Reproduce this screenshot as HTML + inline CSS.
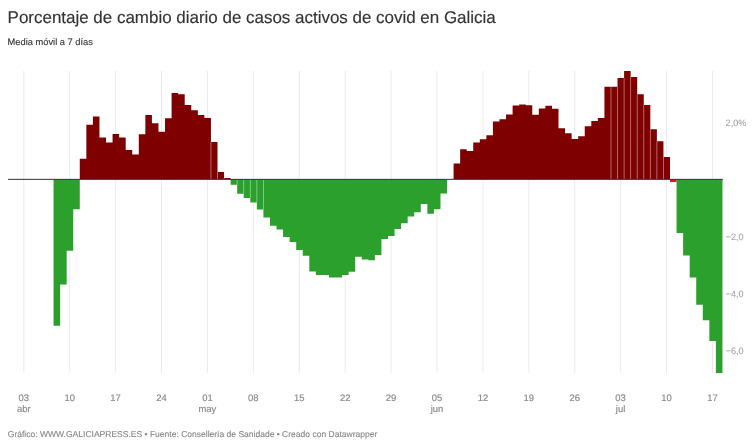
<!DOCTYPE html>
<html lang="es"><head><meta charset="utf-8"><title>Porcentaje de cambio diario de casos activos de covid en Galicia</title>
<style>
html,body{margin:0;padding:0;background:#fff;}
body{width:756px;height:447px;overflow:hidden;position:relative;font-family:"Liberation Sans",Arial,sans-serif;}
svg{position:absolute;left:0;top:0;display:block;}
svg text{font-family:"Liberation Sans",Arial,sans-serif;text-rendering:geometricPrecision;}
.title{font-size:16.97px;fill:#333;stroke:#333;stroke-width:0.15px;}
.sub{font-size:9.3px;fill:#333;stroke:#333;stroke-width:0.12px;}
.xl text{font-size:9.45px;fill:#888;stroke:#888;stroke-width:0.15px;}
.yl text{font-size:9.15px;fill:#a8a8a8;stroke:#a8a8a8;stroke-width:0.12px;}
.foot{font-size:8.52px;fill:#888;stroke:#888;stroke-width:0.12px;}
</style></head><body>
<svg width="756" height="447" viewBox="0 0 756 447">
<text class="title" x="7.6" y="22.8">Porcentaje de cambio diario de casos activos de covid en Galicia</text>
<text class="sub" x="7.6" y="44.8">Media móvil a 7 días</text>
<g><rect x="23.30" y="71" width="1" height="301.8" fill="#ebebeb"/><rect x="69.21" y="71" width="1" height="301.8" fill="#ebebeb"/><rect x="115.12" y="71" width="1" height="301.8" fill="#ebebeb"/><rect x="161.03" y="71" width="1" height="301.8" fill="#ebebeb"/><rect x="206.94" y="71" width="1" height="301.8" fill="#ebebeb"/><rect x="252.85" y="71" width="1" height="301.8" fill="#ebebeb"/><rect x="298.76" y="71" width="1" height="301.8" fill="#ebebeb"/><rect x="344.67" y="71" width="1" height="301.8" fill="#ebebeb"/><rect x="390.58" y="71" width="1" height="301.8" fill="#ebebeb"/><rect x="436.49" y="71" width="1" height="301.8" fill="#ebebeb"/><rect x="482.40" y="71" width="1" height="301.8" fill="#ebebeb"/><rect x="528.31" y="71" width="1" height="301.8" fill="#ebebeb"/><rect x="574.22" y="71" width="1" height="301.8" fill="#ebebeb"/><rect x="620.13" y="71" width="1" height="301.8" fill="#ebebeb"/><rect x="666.04" y="71" width="1" height="301.8" fill="#ebebeb"/><rect x="711.95" y="71" width="1" height="301.8" fill="#ebebeb"/></g>
<g><path d="M53.55 179.20V325.70H60.11V284.60H66.67V250.70H73.22V209.30H79.78V179.20Z" fill="#2ca02c"/><path d="M79.78 179.20V158.80H86.34V124.70H92.90V116.60H99.46V137.60H106.01V142.40H112.57V134.10H119.13V137.60H125.69V149.90H132.25V154.50H138.80V134.30H145.36V115.10H151.92V123.20H158.48V131.80H165.04V118.20H171.59V93.10H178.15V94.30H184.71V105.00H191.27V110.30H197.83V114.90H204.38V118.00H210.94V142.00H217.50V172.00H224.06V178.00H230.62V179.20Z" fill="#7f0000"/><path d="M230.62 179.20V184.70H237.17V193.80H243.73V198.10H250.29V202.50H256.85V209.60H263.41V217.60H269.96V225.70H276.52V229.50H283.08V237.10H289.64V241.90H296.20V250.10H302.75V255.70H309.31V271.60H315.87V274.90H322.43V274.90H328.99V277.60H335.54V277.60H342.10V274.90H348.66V271.70H355.22V256.70H361.78V259.50H368.33V260.20H374.89V254.90H381.45V239.10H388.01V235.90H394.57V228.90H401.12V223.30H407.68V216.50H414.24V212.30H420.80V203.90H427.36V213.80H433.91V209.35H440.47V193.60H447.03V179.20Z" fill="#2ca02c"/><path d="M453.59 179.20V163.40H460.15V149.30H466.70V151.00H473.26V142.60H479.82V139.20H486.38V135.20H492.94V121.50H499.49V119.20H506.05V114.40H512.61V105.60H519.17V104.60H525.73V105.30H532.28V114.70H538.84V108.45H545.40V105.80H551.96V108.80H558.52V128.30H565.07V133.20H571.63V139.00H578.19V136.20H584.75V126.20H591.31V120.90H597.86V118.00H604.42V86.80H610.98V86.80H617.54V78.10H624.10V71.00H630.65V77.00H637.21V94.30H643.77V105.05H650.33V129.20H656.89V141.20H663.44V156.90H670.00V179.20Z" fill="#7f0000"/><path d="M670.00 179.20V182.05H676.56V179.20Z" fill="#e8151b"/><path d="M676.56 179.20V233.10H683.12V255.60H689.68V277.60H696.23V304.80H702.79V320.30H709.35V341.10H715.91V372.90H722.47V179.20Z" fill="#2ca02c"/></g>
<g><rect x="210.54" y="142.00" width="0.8" height="37.20" fill="#fff" fill-opacity="0.5"/><rect x="217.10" y="172.00" width="0.8" height="7.20" fill="#fff" fill-opacity="0.5"/><rect x="223.66" y="178.00" width="0.8" height="1.20" fill="#fff" fill-opacity="0.5"/><rect x="236.77" y="179.20" width="0.8" height="5.50" fill="#fff" fill-opacity="0.5"/><rect x="243.33" y="179.20" width="0.8" height="14.60" fill="#fff" fill-opacity="0.5"/><rect x="249.89" y="179.20" width="0.8" height="18.90" fill="#fff" fill-opacity="0.5"/><rect x="256.45" y="179.20" width="0.8" height="23.30" fill="#fff" fill-opacity="0.5"/><rect x="263.01" y="179.20" width="0.8" height="30.40" fill="#fff" fill-opacity="0.5"/><rect x="610.58" y="86.80" width="0.8" height="92.40" fill="#fff" fill-opacity="0.5"/><rect x="617.14" y="86.80" width="0.8" height="92.40" fill="#fff" fill-opacity="0.5"/><rect x="623.70" y="78.10" width="0.8" height="101.10" fill="#fff" fill-opacity="0.5"/><rect x="630.25" y="77.00" width="0.8" height="102.20" fill="#fff" fill-opacity="0.5"/><rect x="636.81" y="94.30" width="0.8" height="84.90" fill="#fff" fill-opacity="0.5"/><rect x="643.37" y="105.05" width="0.8" height="74.15" fill="#fff" fill-opacity="0.5"/><rect x="649.93" y="129.20" width="0.8" height="50.00" fill="#fff" fill-opacity="0.5"/><rect x="656.49" y="141.20" width="0.8" height="38.00" fill="#fff" fill-opacity="0.5"/><rect x="663.04" y="156.90" width="0.8" height="22.30" fill="#fff" fill-opacity="0.5"/></g>
<rect x="8" y="178.85" width="714.9" height="1" fill="#333"/>
<g class="xl"><text x="23.8" y="401" text-anchor="middle">03</text><text x="23.8" y="412.4" text-anchor="middle">abr</text><text x="69.7" y="401" text-anchor="middle">10</text><text x="115.6" y="401" text-anchor="middle">17</text><text x="161.5" y="401" text-anchor="middle">24</text><text x="207.4" y="401" text-anchor="middle">01</text><text x="207.4" y="412.4" text-anchor="middle">may</text><text x="253.3" y="401" text-anchor="middle">08</text><text x="299.3" y="401" text-anchor="middle">15</text><text x="345.2" y="401" text-anchor="middle">22</text><text x="391.1" y="401" text-anchor="middle">29</text><text x="437.0" y="401" text-anchor="middle">05</text><text x="437.0" y="412.4" text-anchor="middle">jun</text><text x="482.9" y="401" text-anchor="middle">12</text><text x="528.8" y="401" text-anchor="middle">19</text><text x="574.7" y="401" text-anchor="middle">26</text><text x="620.6" y="401" text-anchor="middle">03</text><text x="620.6" y="412.4" text-anchor="middle">jul</text><text x="666.5" y="401" text-anchor="middle">10</text><text x="712.4" y="401" text-anchor="middle">17</text></g>
<g class="yl"><text x="725.6" y="125.8">2,0%</text><text x="725.6" y="240.2">−2,0</text><text x="725.6" y="297.2">−4,0</text><text x="725.6" y="354.3">−6,0</text></g>
<text class="foot" x="7.8" y="436.9">Gráfico: WWW.GALICIAPRESS.ES • Fuente: Consellería de Sanidade • Creado con Datawrapper</text>
</svg>
</body></html>
